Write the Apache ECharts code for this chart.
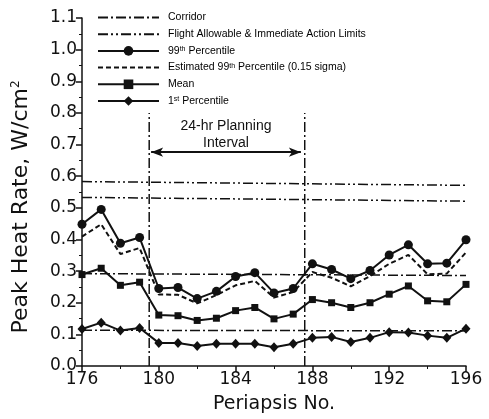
<!DOCTYPE html>
<html>
<head>
<meta charset="utf-8">
<script src="https://cdn.jsdelivr.net/npm/echarts@6/dist/echarts.min.js"></script>
<style>html,body{margin:0;padding:0;background:#fff}#c{width:489px;height:419px}</style>
</head>
<body>
<div id="c"></div>
<script>
var periapsis = [176,177,178,179,180,181,182,183,184,185,186,187,188,189,190,191,192,193,194,195,196];
var p99 = [0.448,0.495,0.388,0.406,0.245,0.248,0.213,0.236,0.283,0.295,0.231,0.245,0.323,0.305,0.276,0.302,0.351,0.383,0.323,0.325,0.399];
var est99 = [0.409,0.448,0.354,0.373,0.226,0.225,0.198,0.224,0.255,0.269,0.216,0.234,0.297,0.279,0.252,0.284,0.323,0.351,0.290,0.292,0.359];
var meanVals = [0.289,0.309,0.255,0.265,0.161,0.159,0.144,0.151,0.175,0.185,0.149,0.164,0.210,0.200,0.185,0.200,0.227,0.253,0.206,0.203,0.258];
var p1 = [0.117,0.137,0.112,0.120,0.073,0.073,0.063,0.070,0.070,0.070,0.059,0.070,0.089,0.092,0.076,0.089,0.107,0.106,0.096,0.089,0.118];
var limitX = [176,196];
var corridorUpper = [0.292,0.286];
var corridorLower = [0.113,0.111];
var flightAllowable = [0.583,0.571];
var immediateAction = [0.533,0.521];
var planningStart = 179.5, planningEnd = 187.6, planningTop = 0.8;
var arrowStart = 179.6, arrowEnd = 187.4, arrowY = 0.676;
var xTicks = {min:176, max:196, interval:4};
var yTicks = {min:0, max:1.1, interval:0.1};

function pairs(xs, ys){ return xs.map(function(x,i){ return [x, ys[i]]; }); }

var K = '#111';
var dashDot = [10,3,2,3];
var dashDotDot = [10,3,2,3,2,3];
var noSym = {color:'rgba(0,0,0,0)', borderWidth:0, opacity:0};
var legendData = [
  {name:'Corridor', itemStyle:noSym},
  {name:'Flight Allowable & Immediate Action Limits', itemStyle:noSym},
  {name:'99th Percentile'},
  {name:'Estimated 99th Percentile (0.15 sigma)', itemStyle:noSym},
  {name:'Mean'},
  {name:'1st Percentile'}
];

var chart = echarts.init(document.getElementById('c'), null, {renderer:'canvas'});
chart.setOption({
  animation:false,
  backgroundColor:'#fff',
  grid:{left:82, right:23, top:18, bottom:49},
  legend:{
    orient:'vertical', left:97, top:12, padding:0, itemWidth:61, itemHeight:12, itemGap:5.7,
    data:legendData,
    formatter:function(n){
      if(n==='99th Percentile') return '99{sup|th} Percentile';
      if(n==='Estimated 99th Percentile (0.15 sigma)') return 'Estimated 99{sup|th} Percentile (0.15 sigma)';
      if(n==='1st Percentile') return '1{sup|st} Percentile';
      return n;
    },
    textStyle:{fontFamily:'Liberation Sans, Arial', fontSize:10.5, color:'#000', padding:[0,0,0,4],
      rich:{sup:{fontSize:7, verticalAlign:'top', lineHeight:8, color:'#000', fontFamily:'Liberation Sans, Arial'}}}
  },
  xAxis:{
    type:'value', min:xTicks.min, max:xTicks.max, interval:xTicks.interval,
    name:'Periapsis No.', nameLocation:'middle', nameGap:29,
    nameTextStyle:{fontFamily:'DejaVu Sans', fontSize:19, color:K},
    axisLine:{lineStyle:{color:K, width:1.5}},
    axisTick:{length:6, lineStyle:{color:K, width:1.5}},
    minorTick:{show:true, splitNumber:2, length:3, lineStyle:{color:K, width:1}},
    axisLabel:{fontFamily:'DejaVu Sans', fontSize:17, color:K, margin:5},
    splitLine:{show:false}
  },
  yAxis:{
    type:'value', min:yTicks.min, max:yTicks.max, interval:yTicks.interval,
    name:'Peak Heat Rate, W/cm{sup|2}', nameLocation:'middle', nameGap:50,
    nameTextStyle:{fontFamily:'DejaVu Sans', fontSize:22, color:K, padding:[0,30,0,0],
      rich:{sup:{fontSize:12, verticalAlign:'top', lineHeight:11, color:K, fontFamily:'DejaVu Sans'}}},
    axisLine:{show:true, lineStyle:{color:K, width:1.5}},
    axisTick:{show:true, length:6, lineStyle:{color:K, width:1.5}},
    minorTick:{show:true, splitNumber:2, length:3, lineStyle:{color:K, width:1}},
    axisLabel:{fontFamily:'DejaVu Sans', fontSize:17, color:K, margin:5,
      formatter:function(v){ return v.toFixed(1); }},
    splitLine:{show:false}
  },
  series:[
    {name:'Corridor', type:'line', data:pairs(limitX, corridorUpper), symbol:'none',
      lineStyle:{color:K, width:1.5, type:dashDot}, itemStyle:{color:K}, z:1},
    {name:'Corridor', type:'line', data:pairs(limitX, corridorLower), symbol:'none',
      lineStyle:{color:K, width:1.5, type:dashDot}, itemStyle:{color:K}, z:1},
    {name:'Flight Allowable & Immediate Action Limits', type:'line', data:pairs(limitX, flightAllowable), symbol:'none',
      lineStyle:{color:K, width:1.5, type:dashDotDot}, itemStyle:{color:K}, z:1},
    {name:'Flight Allowable & Immediate Action Limits', type:'line', data:pairs(limitX, immediateAction), symbol:'none',
      lineStyle:{color:K, width:1.5, type:dashDotDot}, itemStyle:{color:K}, z:1},
    {name:'99th Percentile', type:'line', data:pairs(periapsis, p99), symbol:'circle', symbolSize:9,
      lineStyle:{color:K, width:2}, itemStyle:{color:K}, z:3},
    {name:'Estimated 99th Percentile (0.15 sigma)', type:'line', data:pairs(periapsis, est99), symbol:'none',
      lineStyle:{color:K, width:2, type:[5,3]}, itemStyle:{color:K}, z:2},
    {name:'Mean', type:'line', data:pairs(periapsis, meanVals), symbol:'rect', symbolSize:7,
      lineStyle:{color:K, width:2}, itemStyle:{color:K}, z:3},
    {name:'1st Percentile', type:'line', data:pairs(periapsis, p1), symbol:'diamond', symbolSize:[9,10],
      lineStyle:{color:K, width:2}, itemStyle:{color:K}, z:3},
    {name:'planStart', type:'line', data:[[planningStart,0],[planningStart,planningTop]], symbol:'none',
      lineStyle:{color:K, width:1.5, type:dashDot}, z:1},
    {name:'planEnd', type:'line', data:[[planningEnd,0],[planningEnd,planningTop]], symbol:'none',
      lineStyle:{color:K, width:1.5, type:dashDot}, z:1},
    {name:'planArrow', type:'line', data:[], symbol:'none',
      markLine:{silent:true, symbol:['arrow','arrow'], symbolSize:[7,12], animation:false,
        lineStyle:{color:K, width:2, type:'solid'},
        label:{show:true, position:'middle', formatter:'24-hr Planning\nInterval',
          fontFamily:'Liberation Sans, Arial', fontSize:14, lineHeight:17, color:K, distance:0},
        data:[[{coord:[arrowStart,arrowY]},{coord:[arrowEnd,arrowY]}]]}}
  ]
});
</script>
</body>
</html>
